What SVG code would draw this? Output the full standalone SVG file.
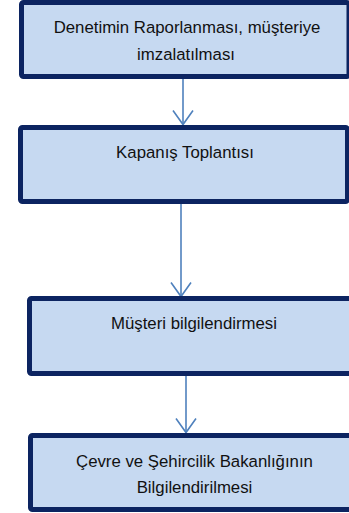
<svg xmlns="http://www.w3.org/2000/svg" width="349" height="513" viewBox="0 0 349 513">
<style>
.box{fill:#C6D9F1;stroke:#0C2461;stroke-width:5}
.lbl{font-family:"Liberation Sans",Arial,sans-serif;font-size:16.8px;fill:#111;text-anchor:middle}
.conn{stroke:#4F81BD;stroke-width:1.6;fill:none}
</style>
<defs>
<marker id="arr" markerUnits="userSpaceOnUse" viewBox="-15 -12 17 24" refX="0" refY="0" markerWidth="17" markerHeight="24" orient="auto" overflow="visible">
<path d="M-14,-10 L0,0 L-14,10" fill="none" stroke="#4F81BD" stroke-width="1.6"/>
</marker>
</defs>
<rect width="349" height="513" fill="#fff"/>
<g id="connectors">
<line class="conn" x1="183" y1="79" x2="183" y2="124.5" marker-end="url(#arr)"/>
<line class="conn" x1="181" y1="204" x2="181" y2="296.5" marker-end="url(#arr)"/>
<line class="conn" x1="186" y1="376" x2="186" y2="432.5" marker-end="url(#arr)"/>
</g>
<g id="node1">
<rect class="box" x="21.5" y="2.5" width="327.5" height="74" rx="2"/>
<text class="lbl" x="187" y="33">Denetimin Raporlanması, müşteriye</text>
<text class="lbl" x="186" y="60">imzalatılması</text>
</g>
<g id="node2">
<rect class="box" x="20.5" y="127.5" width="327" height="74" rx="2"/>
<text class="lbl" x="185" y="158">Kapanış Toplantısı</text>
</g>
<g id="node3">
<rect class="box" x="29.5" y="298.5" width="330" height="75" rx="2"/>
<text class="lbl" x="194" y="329">Müşteri bilgilendirmesi</text>
</g>
<g id="node4">
<rect class="box" x="30.5" y="435.5" width="330" height="74" rx="2"/>
<text class="lbl" x="194.5" y="467">Çevre ve Şehircilik Bakanlığının</text>
<text class="lbl" x="194.5" y="493">Bilgilendirilmesi</text>
</g>
</svg>
